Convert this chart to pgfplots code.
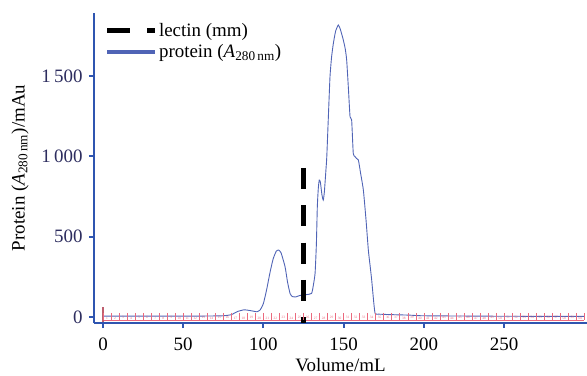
\documentclass[border=0pt]{standalone}
\usepackage{fontspec}
\setmainfont{Liberation Serif}
\usepackage{pgfplots}
\pgfplotsset{compat=1.18}
\definecolor{axblue}{RGB}{47,85,176}
\definecolor{curveblue}{RGB}{80,100,182}
\definecolor{ticknavy}{RGB}{45,45,95}
\definecolor{rulered}{RGB}{235,105,125}
\definecolor{rulerdark}{RGB}{190,95,110}
\begin{document}
\begin{tikzpicture}
\useasboundingbox (-94bp,-53bp) rectangle (493bp,323bp);
\begin{axis}[
  at={(0,0)}, anchor=south west,
  scale only axis, width=493bp, height=310bp,
  xmin=-5.6, xmax=301.7, ymin=-37, ymax=1893,
  axis x line*=bottom, axis y line*=left,
  axis line style={-, axblue, line width=2.2bp},
  xtick={0,50,100,150,200,250},
  ytick={0,500,1000,1500},
  yticklabels={0,500,1\,000,1\,500},
  tick align=outside,
  major tick length=5bp,
  every tick/.style={axblue, line width=2bp},
  /pgf/number format/assume math mode=true,
  tick label style={font=\fontsize{19}{22}\selectfont},
  yticklabel style={text=ticknavy, xshift=-3bp},
  xticklabel style={text=black, yshift=-6bp},
  label style={font=\fontsize{19}{22}\selectfont},
  xlabel={Volume/mL},
  xlabel style={yshift=-1bp},
  ylabel={Protein (\textit{A}\textsubscript{280\,nm})/mAu},
  ylabel style={yshift=6bp},
  clip=false,
  legend cell align=left,
  legend style={draw=none, fill=none, at={(0.017,0.98)}, anchor=north west,
    font=\fontsize{19}{23}\selectfont, row sep=4bp, inner sep=2bp,
    nodes={inner sep=1.5bp}},
]
\addlegendimage{legend image code/.code={\draw[black, line width=5bp, dash pattern=on 23bp off 17bp] (0bp,0bp) -- (48bp,0bp);}}
\addlegendentry{lectin (mm)}
\addlegendimage{legend image code/.code={\draw[curveblue, line width=4bp] (0bp,0bp) -- (48bp,0bp);}}
\addlegendentry{protein (\textit{A}\textsubscript{280\,nm})}
% fraction collector ruler
\addplot[rulered, line width=0.8bp, forget plot] coordinates {(0,-22) (300,-22)};
\addplot[only marks, rulered, mark=|, mark size=3.5bp, mark options={line width=0.6bp}, forget plot] coordinates {
(0,5)(5,5)(10,5)(15,5)(20,5)(25,5)(30,5)(35,5)(40,5)(45,5)(50,5)(55,5)(60,5)(65,5)(70,5)(75,5)(80,5)(85,5)(90,5)(95,5)
(100,5)(105,5)(110,5)(115,5)(120,5)(125,5)(130,5)(135,5)(140,5)(145,5)(150,5)(155,5)(160,5)(165,5)(170,5)(175,5)(180,5)(185,5)(190,5)(195,5)
(200,5)(205,5)(210,5)(215,5)(220,5)(225,5)(230,5)(235,5)(240,5)(245,5)(250,5)(255,5)(260,5)(265,5)(270,5)(275,5)(280,5)(285,5)(290,5)(295,5)(300,5)};
\addplot[draw=none, mark=none, forget plot, nodes near coords, point meta=explicit symbolic,
  every node near coord/.style={text=rulered, font=\fontsize{3.5}{4}\selectfont, anchor=center, inner sep=0pt}] coordinates {
(2.5,-5)[1](7.5,-5)[2](12.5,-5)[3](17.5,-5)[4](22.5,-5)[5](27.5,-5)[6](32.5,-5)[7](37.5,-5)[8](42.5,-5)[9](47.5,-5)[10]
(52.5,-5)[11](57.5,-5)[12](62.5,-5)[13](67.5,-5)[14](72.5,-5)[15](77.5,-5)[16](82.5,-5)[17](87.5,-5)[18](92.5,-5)[19](97.5,-5)[20]
(102.5,-5)[21](107.5,-5)[22](112.5,-5)[23](117.5,-5)[24](122.5,-5)[25](127.5,-5)[26](132.5,-5)[27](137.5,-5)[28](142.5,-5)[29](147.5,-5)[30]
(152.5,-5)[31](157.5,-5)[32](162.5,-5)[33](167.5,-5)[34](172.5,-5)[35](177.5,-5)[36](182.5,-5)[37](187.5,-5)[38](192.5,-5)[39](197.5,-5)[40]
(202.5,-5)[41](207.5,-5)[42](212.5,-5)[43](217.5,-5)[44](222.5,-5)[45](227.5,-5)[46](232.5,-5)[47](237.5,-5)[48](242.5,-5)[49](247.5,-5)[50]
(252.5,-5)[51](257.5,-5)[52](262.5,-5)[53](267.5,-5)[54](272.5,-5)[55](277.5,-5)[56](282.5,-5)[57](287.5,-5)[58](292.5,-5)[59](297.5,-5)[60]};
\addplot[rulerdark, line width=2.5bp, forget plot] coordinates {(0,-31) (0,62)};
% protein curve
\addplot[curveblue, line width=0.9bp, smooth, tension=0.3, forget plot] coordinates {
(0,6)(20,6)(40,6)(60,6)(75,8)(80,15)(84,35)(88,45)(92,40)(96,33)(98,45)(100,85)(102,170)(104,272)(106,360)(108,410)(109.5,417)(111,400)(113.5,313)(115,220)(116.6,147)(118,128)(120,125)(122,132)(124,137)(127,140)(130,147)(131,190)(132.2,272)(133,450)(133.6,687)(134.2,800)(134.8,853)(135.5,840)(136.5,760)(137.3,728)(138,780)(139,920)(139.5,998)(140.5,1250)(141.5,1496)(142.5,1620)(143.6,1704)(145,1780)(146.7,1818)(148,1790)(149.8,1725)(151,1670)(151.9,1600)(153,1420)(154,1247)(155,1227)(156,1019)(157,1000)(158,988)(159.2,978)(160.5,900)(162.3,791)(164,600)(165.4,417)(166.5,320)(167.5,230)(168.5,120)(169.6,23)(172,18)(180,15)(191,12)(200,8)(250,5)(300,4)};
% lectin
\addplot[black, line width=5bp, dash pattern=on 21bp off 16.3bp, forget plot] coordinates {(125,928) (125,-37)};
\end{axis}
\end{tikzpicture}
\end{document}
